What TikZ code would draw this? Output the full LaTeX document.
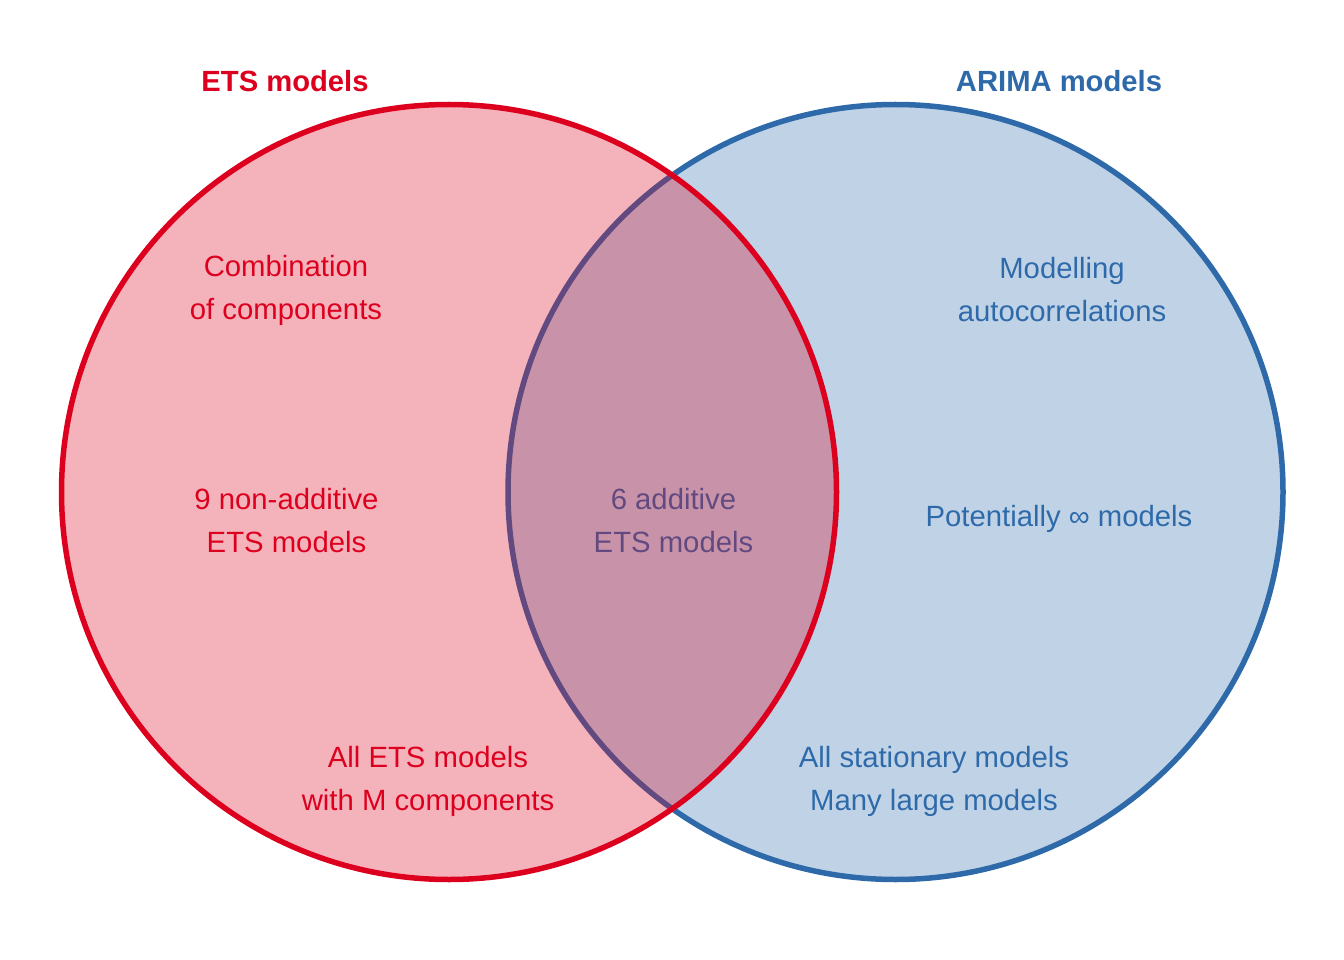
\documentclass[tikz,border=0pt]{standalone}
\usepackage{fontspec}
\setmainfont{Liberation Sans}
\definecolor{etsred}{RGB}{220,0,30}
\definecolor{arimablue}{RGB}{46,106,170}
\begin{document}
\begin{tikzpicture}[x=1pt,y=-1pt,
  setcircle/.style={circle,minimum size=775pt,inner sep=0pt,line width=5.5pt},
  lbl/.style={align=center,font=\fontsize{29.3}{43}\selectfont},
  ttl/.style={font=\fontsize{29.2}{34}\selectfont\bfseries}]
\useasboundingbox (0,0) rectangle (1344,960);
% ARIMA set underneath
\node[setcircle,draw=arimablue,fill=arimablue,fill opacity=0.3,draw opacity=1] (arima) at (895.5,492) {};
\node[lbl,text=arimablue] (both) at (673.5,521) {6 additive\\ETS models};
% ETS set on top, translucent
\node[setcircle,draw=etsred,fill=etsred,fill opacity=0.3,draw opacity=1] (ets) at (449,492) {};
% titles
\node[ttl,text=etsred] (etstitle) at (285,81) {ETS models};
\node[ttl,text=arimablue] (arimatitle) at (1059,81) {ARIMA models};
% ETS-only labels
\node[lbl,text=etsred] (etscomb) at (286,290) {Combination\\of components};
\node[lbl,text=etsred] (etsnonadd) at (286.5,521) {9 non-additive\\ETS models};
\node[lbl,text=etsred] (etsmult) at (428,781) {All ETS models\\with M components};
% ARIMA-only labels
\node[lbl,text=arimablue] (arimaac) at (1062,290) {Modelling\\autocorrelations};
\node[lbl,text=arimablue] (arimainf) at (1059,519) {Potentially ∞ models};
\node[lbl,text=arimablue] (arimastat) at (934,781) {All stationary models\\Many large models};
\end{tikzpicture}
\end{document}
